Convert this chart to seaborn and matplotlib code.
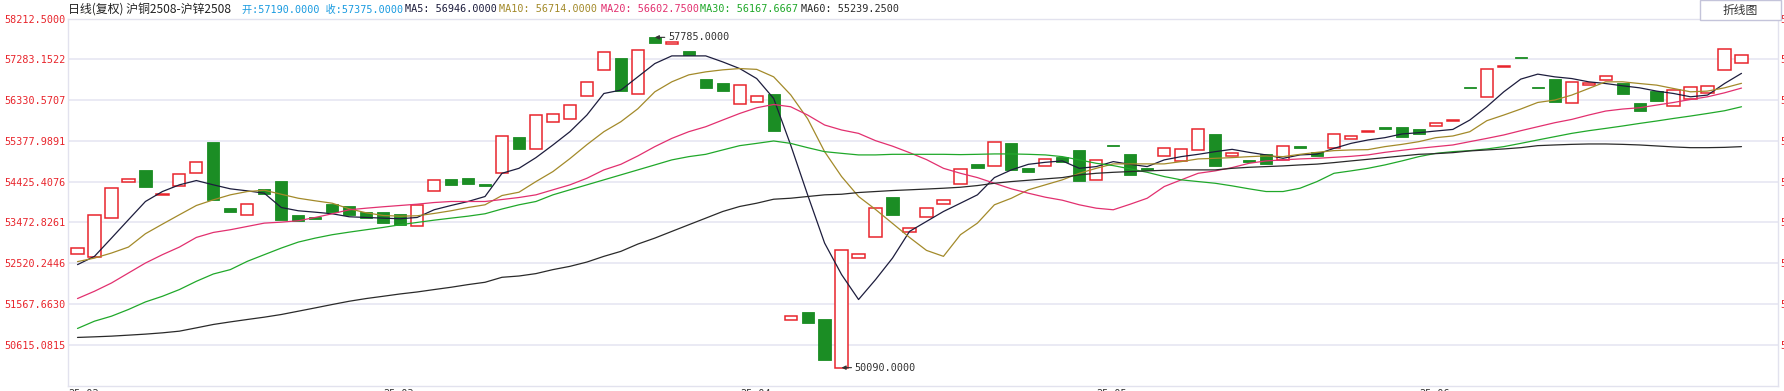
import numpy as np
import pandas as pd
import matplotlib
matplotlib.use('Agg')
import matplotlib.pyplot as plt
from matplotlib.patches import Rectangle
import seaborn as sns

# daily bodies (open / close), 2025-02 .. 2025-06
opens = [52745, 52660, 53580, 54420, 54700, 54105, 54325, 54630, 55355, 53800,
         53635, 54255, 54450, 53635, 53590, 53900, 53865, 53705, 53705, 53680,
         53395, 54210, 54490, 54510, 54380, 54630, 55470, 55185, 55810, 55880,
         56415, 57020, 57305, 56465, 57785, 57640, 57470, 56820, 56725, 56230,
         56275, 56470, 51210, 51380, 51220, 50090, 52655, 53140, 54055, 53255,
         53605, 53905, 54370, 54845, 54790, 55330, 54750, 54790, 55005, 55170,
         54465, 55285, 55075, 54730, 55020, 54905, 55160, 55540, 55020, 54920,
         55075, 54930, 55245, 55120, 55210, 55420, 55580, 55705, 55705, 55655,
         55720, 55825, 56625, 56395, 57090, 57330, 56635, 56820, 56255, 56685,
         56780, 56725, 56260, 56540, 56185, 56360, 56495, 57020, 57190]
closes = [52885, 53650, 54270, 54480, 54290, 54140, 54605, 54885, 53985, 53710,
          53905, 54145, 53525, 53510, 53550, 53705, 53640, 53580, 53455, 53420,
          53885, 54465, 54340, 54365, 54315, 55485, 55175, 55975, 56000, 56205,
          56740, 57440, 56545, 57485, 57660, 57670, 57385, 56615, 56545, 56670,
          56415, 55595, 51290, 51135, 50275, 52840, 52745, 53815, 53640, 53350,
          53815, 54000, 54720, 54735, 55350, 54690, 54640, 54960, 54890, 54430,
          54930, 55245, 54570, 54690, 55210, 55185, 55650, 54780, 55090, 54890,
          54830, 55255, 55215, 55015, 55535, 55485, 55610, 55640, 55455, 55535,
          55790, 55860, 56605, 57050, 57120, 57315, 56615, 56285, 56740, 56710,
          56880, 56455, 56075, 56305, 56555, 56635, 56655, 57515, 57375]

ma5 = [52490, 52683, 53108, 53536, 53961, 54193, 54349, 54449, 54349, 54256,
       54209, 54154, 53821, 53745, 53712, 53675, 53605, 53589, 53573, 53559,
       53589, 53768, 53868, 53961, 54077, 54618, 54734, 54983, 55278, 55587,
       55975, 56477, 56556, 56865, 57174, 57353, 57353, 57353, 57213, 57058,
       56825, 56361, 55278, 54116, 52992, 52258, 51677, 52141, 52643, 53264,
       53496, 53728, 53921, 54116, 54518, 54697, 54827, 54874, 54906, 54734,
       54774, 54890, 54827, 54774, 54930, 55006, 55060, 55122, 55176, 55106,
       55046, 54967, 55046, 55064, 55199, 55315, 55394, 55448, 55534, 55564,
       55603, 55640, 55859, 56168, 56516, 56812, 56928, 56865, 56825, 56749,
       56709, 56656, 56609, 56533, 56477, 56400, 56440, 56709, 56946]
ma10 = [52560, 52643, 52760, 52899, 53210, 53433, 53652, 53868, 54000, 54116,
        54193, 54223, 54130, 54037, 53977, 53921, 53791, 53698, 53635, 53619,
        53628, 53682, 53745, 53821, 53884, 54100, 54177, 54425, 54658, 54960,
        55285, 55587, 55819, 56121, 56516, 56749, 56911, 56981, 57028, 57058,
        57039, 56865, 56447, 55889, 55122, 54542, 54077, 53775, 53450, 53124,
        52822, 52683, 53187, 53457, 53884, 54037, 54233, 54349, 54465, 54618,
        54734, 54837, 54837, 54837, 54837, 54890, 54953, 54967, 54983, 55006,
        55022, 55006, 55060, 55106, 55146, 55162, 55169, 55239, 55292, 55355,
        55448, 55487, 55587, 55843, 55975, 56115, 56268, 56324, 56440, 56593,
        56749, 56749, 56709, 56672, 56593, 56516, 56533, 56609, 56714]
ma20 = [51700, 51870, 52062, 52295, 52527, 52722, 52899, 53124, 53240, 53303,
        53380, 53457, 53480, 53512, 53589, 53675, 53768, 53805, 53838, 53868,
        53898, 53937, 53961, 53961, 53961, 54007, 54054, 54116, 54233, 54349,
        54502, 54697, 54827, 55022, 55239, 55431, 55587, 55703, 55859, 56012,
        56145, 56221, 56168, 55975, 55743, 55627, 55548, 55378, 55250, 55099,
        54937, 54734, 54618, 54518, 54386, 54256, 54154, 54061, 53991, 53884,
        53805, 53768, 53898, 54037, 54309, 54465, 54618, 54674, 54751, 54851,
        54906, 54930, 54953, 54967, 54990, 55013, 55046, 55106, 55153, 55199,
        55239, 55278, 55355, 55431, 55511, 55610, 55703, 55796, 55873, 55975,
        56068, 56115, 56145, 56207, 56268, 56338, 56400, 56493, 56603]
ma30 = [51003, 51173, 51289, 51445, 51621, 51753, 51909, 52102, 52272, 52374,
        52567, 52722, 52876, 53015, 53108, 53187, 53247, 53303, 53357, 53419,
        53473, 53526, 53573, 53619, 53675, 53786, 53884, 53961, 54116, 54233,
        54349, 54465, 54581, 54697, 54813, 54930, 55006, 55060, 55162, 55262,
        55315, 55371, 55315, 55215, 55122, 55083, 55046, 55046, 55060, 55060,
        55060, 55060, 55053, 55060, 55069, 55069, 55060, 55046, 55006, 54930,
        54851, 54797, 54720, 54641, 54542, 54465, 54425, 54386, 54325, 54256,
        54193, 54193, 54270, 54425, 54618, 54674, 54734, 54813, 54906, 55006,
        55083, 55122, 55146, 55185, 55239, 55315, 55394, 55471, 55548, 55610,
        55664, 55720, 55780, 55836, 55896, 55952, 56012, 56075, 56168]
ma60 = [50794, 50808, 50824, 50847, 50871, 50901, 50940, 51017, 51096, 51156,
        51212, 51266, 51328, 51405, 51482, 51561, 51637, 51700, 51753, 51807,
        51853, 51909, 51963, 52025, 52079, 52195, 52225, 52281, 52374, 52450,
        52550, 52683, 52799, 52969, 53108, 53264, 53419, 53573, 53728, 53845,
        53921, 54014, 54037, 54077, 54116, 54130, 54170, 54193, 54216, 54233,
        54251, 54270, 54293, 54332, 54386, 54425, 54456, 54488, 54518, 54581,
        54618, 54641, 54658, 54674, 54688, 54697, 54697, 54697, 54734, 54758,
        54774, 54790, 54813, 54832, 54867, 54906, 54944, 54983, 55022, 55060,
        55076, 55099, 55139, 55162, 55185, 55215, 55262, 55278, 55292, 55301,
        55301, 55292, 55278, 55255, 55232, 55215, 55215, 55222, 55239]

# last values shown in the header
last_ma = {'MA5': 56946.0, 'MA10': 56714.0, 'MA20': 56602.75, 'MA30': 56167.6667, 'MA60': 55239.25}

month_pos = [0, 18, 39, 60, 79]
month_labels = ['25-02', '25-03', '25-04', '25-05', '25-06']
y_ticks = [58212.5, 57283.1522, 56330.5707, 55377.9891, 54425.4076,
           53472.8261, 52520.2446, 51567.6630, 50615.0815]
y_min = 49662.5
hi_idx, hi_val = 34, 57785.0
lo_idx, lo_val = 45, 50090.0

RED = '#e8252c'
GREEN = '#1b8d24'
ma_colors = {'MA5': '#1d1d3d', 'MA10': '#a38a2a', 'MA20': '#e2306f',
             'MA30': '#20a82a', 'MA60': '#2a2a2a'}
MONO = ['DejaVu Sans Mono', 'Noto Sans CJK SC']

sns.set_style('white')
plt.rcParams['font.family'] = MONO

W, H = 1784, 391
fig = plt.figure(figsize=(W / 100, H / 100), dpi=100)
ax = fig.add_axes([68 / W, 5 / H, (1778 - 68) / W, (386 - 19) / H])

n = len(opens)
idx = np.arange(n)
o = np.array(opens, float)
c = np.array(closes, float)
up = c >= o

# candle bodies
ax.bar(idx[up], c[up] - o[up], bottom=o[up], width=0.72, facecolor='white',
       edgecolor=RED, linewidth=1.1, zorder=2)
ax.bar(idx[~up], c[~up] - o[~up], bottom=o[~up], width=0.72, facecolor=GREEN,
       edgecolor=GREEN, linewidth=0.6, zorder=2)

# moving averages
ma_df = pd.DataFrame({'idx': np.tile(idx, 5),
                      'value': ma5 + ma10 + ma20 + ma30 + ma60,
                      'ma': np.repeat(list(ma_colors.keys()), n)})
sns.lineplot(data=ma_df, x='idx', y='value', hue='ma', palette=ma_colors,
             estimator=None, legend=False, linewidth=0.9, ax=ax, zorder=3)

ax.set_xlim(-0.56, 100.15)
ax.set_ylim(y_min, y_ticks[0])
ax.set_xlabel('')
ax.set_ylabel('')
ax.set_xticks([])
ax.set_yticks(y_ticks)
ax.set_yticklabels([f'{v:.4f}' for v in y_ticks])
ax.tick_params(axis='y', length=0, pad=2, labelsize=7.3, labelcolor=RED)
ax.yaxis.grid(True, color='#e6e6f2', linewidth=1.2, zorder=0)
ax.set_axisbelow(True)
for s in ax.spines.values():
    s.set_color('#e2e2ee')
    s.set_linewidth(1.0)

# clipped right-hand labels
ax2 = ax.twinx()
ax2.set_ylim(y_min, y_ticks[0])
ax2.set_yticks(y_ticks)
ax2.set_yticklabels([f'{v:.4f}' for v in y_ticks])
ax2.tick_params(axis='y', length=0, pad=2, labelsize=7.3, labelcolor=RED)
for s in ax2.spines.values():
    s.set_visible(False)

# high / low markers
ax.annotate(f'{hi_val:.4f}', xy=(hi_idx, hi_val), xytext=(9.5, 0),
            textcoords='offset points', va='center', ha='left', fontsize=7.3,
            color='#333333',
            arrowprops=dict(arrowstyle='-|>', color='#333333', lw=0.8,
                            mutation_scale=6, shrinkA=0, shrinkB=0), zorder=5)
ax.annotate(f'{lo_val:.4f}', xy=(lo_idx, lo_val), xytext=(9.5, 0),
            textcoords='offset points', va='center', ha='left', fontsize=7.3,
            color='#333333',
            arrowprops=dict(arrowstyle='-|>', color='#333333', lw=0.8,
                            mutation_scale=6, shrinkA=0, shrinkB=0), zorder=5)

# month labels (cut by the bottom edge)
for p, lab in zip(month_pos, month_labels):
    xp = -0.56 if p == 0 else p
    ax.annotate(lab, xy=(xp, 0), xycoords=('data', 'axes fraction'),
                xytext=(0, -2.2), textcoords='offset points', ha='left',
                va='top', fontsize=7.3, color='#333333', annotation_clip=False)

# header line
ty = 1 - 9.5 / H
fig.text(68 / W, ty, '日线(复权) 沪铜2508-沪锌2508', fontsize=8.6,
         family=['Noto Sans CJK SC', 'DejaVu Sans'], color='#222222', va='center')
fig.text(242 / W, ty, f'开:{opens[-1]:.4f} 收:{closes[-1]:.4f}', fontsize=7.3,
         color='#1a9be0', va='center')
head_x = {'MA5': 405, 'MA10': 499, 'MA20': 601, 'MA30': 700, 'MA60': 801}
for k, v in last_ma.items():
    fig.text(head_x[k] / W, ty, f'{k}: {v:.4f}', fontsize=7.3,
             color=ma_colors[k], va='center')

# button
fig.patches.append(Rectangle((1700 / W, 1 - 20 / H), 81 / W, 20 / H,
                             transform=fig.transFigure, facecolor='white',
                             edgecolor='#c4c4da', linewidth=1.0))
fig.text(1740 / W, 1 - 10 / H, '折线图', fontsize=8.5,
         family=['Noto Sans CJK SC', 'DejaVu Sans'], color='#333333',
         ha='center', va='center')

fig.savefig('out.png', dpi=100, facecolor='white')
